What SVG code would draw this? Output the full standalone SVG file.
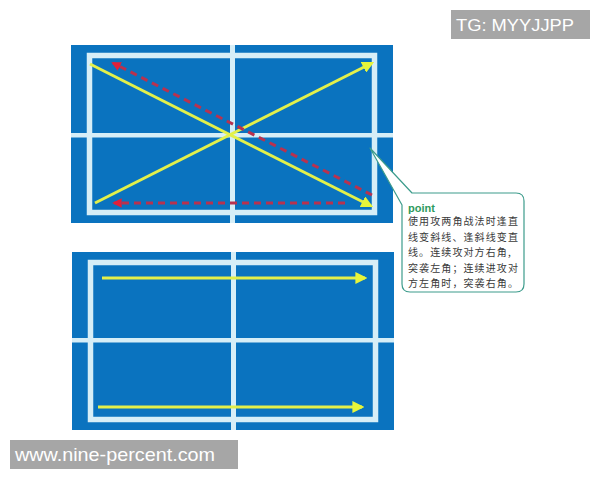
<svg xmlns="http://www.w3.org/2000/svg" width="600" height="480" viewBox="0 0 600 480">
<defs>
<style>
.court{fill:#0a73bf}
.line{fill:#d6eef7}
.border{fill:none;stroke:#d6eef7;stroke-width:5.5}
.yl{stroke:#e3f04a;stroke-width:3;fill:none}
.rd{stroke:#b8324f;stroke-width:3;fill:none;stroke-dasharray:7 5}
.wm{fill:#a6a6a6}
.wmt{fill:#ffffff;font-family:"Liberation Sans",Arial,sans-serif}
.cn{font-family:"Noto Sans CJK SC",sans-serif;font-size:10px;fill:#3a3a3a;letter-spacing:1.1px}
</style>
<marker id="ya" viewBox="0 0 10 10" refX="8" refY="5" markerWidth="4" markerHeight="4" orient="auto" markerUnits="strokeWidth">
<path d="M0,0 L10,5 L0,10 Z" fill="#e8f53a"/>
</marker>
<marker id="ra" viewBox="0 0 10 10" refX="8" refY="5" markerWidth="3.2" markerHeight="3.2" orient="auto" markerUnits="strokeWidth">
<path d="M0,0 L10,5 L0,10 Z" fill="#e0203a"/>
</marker>
</defs>

<g id="court-top">
<rect class="court" x="71" y="45" width="322" height="178"/>
<rect class="border" x="89.5" y="55.5" width="285" height="157"/>
<rect class="line" x="71" y="133" width="322" height="4.5"/>
<rect class="line" x="230" y="45" width="5" height="178"/>
</g>

<g id="court-bottom">
<rect class="court" x="72" y="252" width="322" height="178"/>
<rect class="border" x="90.5" y="262.5" width="285" height="157"/>
<rect class="line" x="72" y="338" width="322" height="4.5"/>
<rect class="line" x="231" y="252" width="5" height="178"/>
</g>

<g id="connectors">
<line class="yl" x1="90" y1="64" x2="371" y2="206" marker-end="url(#ya)"/>
<line class="yl" x1="95" y1="203" x2="372" y2="63" marker-end="url(#ya)"/>
<line class="rd" x1="372" y1="195" x2="113" y2="63" marker-end="url(#ra)"/>
<line class="rd" x1="345" y1="203" x2="114" y2="203" marker-end="url(#ra)"/>
<line class="yl" x1="102" y1="278" x2="365" y2="278" marker-end="url(#ya)"/>
<line class="yl" x1="98" y1="407" x2="362" y2="407" marker-end="url(#ya)"/>
</g>

<g id="callout">
<path d="M412,193 L516,193 Q524,193 524,201 L524,284 Q524,292 516,292 L410,292 Q402,292 402,284 L402,205 L370,148 Z" fill="#ffffff" stroke="#3d9c8c" stroke-width="1.2" stroke-linejoin="round"/>
<text x="408" y="212" font-family="'Liberation Sans',Arial,sans-serif" font-size="11" font-weight="bold" fill="#2e9a5c">point</text>
<text class="cn" x="408" y="225">使用攻两角战法时逢直</text>
<text class="cn" x="408" y="240.5">线变斜线、逢斜线变直</text>
<text class="cn" x="408" y="256">线。连续攻对方右角,</text>
<text class="cn" x="408" y="271.5">突袭左角；连续进攻对</text>
<text class="cn" x="408" y="287">方左角时，突袭右角。</text>
</g>

<g id="watermark-tg">
<rect class="wm" x="451" y="10" width="139" height="29"/>
<text class="wmt" x="456" y="31" font-size="17" textLength="118" lengthAdjust="spacingAndGlyphs">TG: MYYJJPP</text>
</g>
<g id="watermark-www">
<rect class="wm" x="10" y="440" width="228" height="29"/>
<text class="wmt" x="15" y="461" font-size="19" textLength="200" lengthAdjust="spacingAndGlyphs">www.nine-percent.com</text>
</g>
</svg>
